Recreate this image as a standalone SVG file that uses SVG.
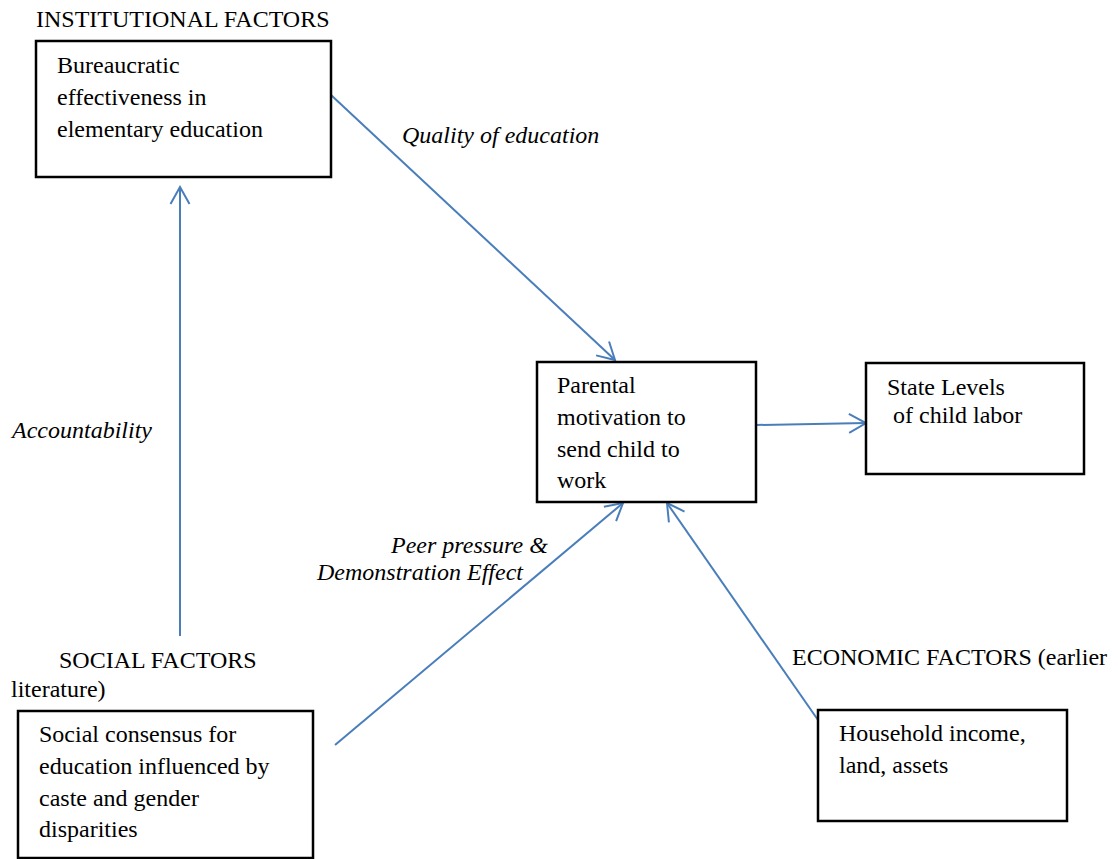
<svg xmlns="http://www.w3.org/2000/svg" width="1118" height="859" viewBox="0 0 1118 859">
<style>
text{font-family:"Liberation Serif","Times New Roman",serif;font-size:24px;fill:#000}
.i{font-style:italic}
.box{fill:#fff;stroke:#000;stroke-width:2.5}
.con{fill:none;stroke:#4A7EBB;stroke-width:2}
</style>
<defs>
<marker id="arr" viewBox="-19 -11 21 22" refX="0" refY="0" markerUnits="userSpaceOnUse" markerWidth="21" markerHeight="22" orient="auto">
<path d="M-17,-9.5 L0,0 L-17,9.5" fill="none" stroke="#4A7EBB" stroke-width="2"/>
</marker>
</defs>
<rect width="1118" height="859" fill="#fff"/>
<g id="labels">
<text x="36" y="27">INSTITUTIONAL FACTORS</text>
<text x="59" y="668">SOCIAL FACTORS</text>
<text x="11" y="697">literature)</text>
<text x="792" y="665">ECONOMIC FACTORS (earlier</text>
</g>
<g id="connectors">
<line class="con" x1="331" y1="95" x2="615" y2="360" marker-end="url(#arr)"/>
<line class="con" x1="756" y1="425" x2="866" y2="423" marker-end="url(#arr)"/>
<line class="con" x1="180" y1="636" x2="180" y2="187" marker-end="url(#arr)"/>
<line class="con" x1="335" y1="745" x2="623" y2="503" marker-end="url(#arr)"/>
<line class="con" x1="818" y1="720" x2="667" y2="503" marker-end="url(#arr)"/>
<text class="i" x="402" y="143">Quality of education</text>
<text class="i" x="12" y="438">Accountability</text>
<text class="i" x="391" y="553">Peer pressure &amp;</text>
<text class="i" x="317" y="580">Demonstration Effect</text>
</g>
<g id="bureaucratic">
<rect class="box" x="36" y="41" width="295" height="136"/>
<text x="57" y="73">Bureaucratic</text>
<text x="57" y="105">effectiveness in</text>
<text x="57" y="137">elementary education</text>
</g>
<g id="parental">
<rect class="box" x="537" y="362" width="219" height="140"/>
<text x="557" y="393">Parental</text>
<text x="557" y="425">motivation to</text>
<text x="557" y="457">send child to</text>
<text x="557" y="488">work</text>
</g>
<g id="state">
<rect class="box" x="866" y="363" width="218" height="111"/>
<text x="887" y="395">State Levels</text>
<text x="887" y="423" xml:space="preserve"> of child labor</text>
</g>
<g id="social">
<rect class="box" x="18" y="711" width="295" height="147"/>
<text x="39" y="742">Social consensus for</text>
<text x="39" y="774">education influenced by</text>
<text x="39" y="806">caste and gender</text>
<text x="39" y="837">disparities</text>
</g>
<g id="household">
<rect class="box" x="818" y="710" width="249" height="111"/>
<text x="839" y="741">Household income,</text>
<text x="839" y="773">land, assets</text>
</g>
</svg>
